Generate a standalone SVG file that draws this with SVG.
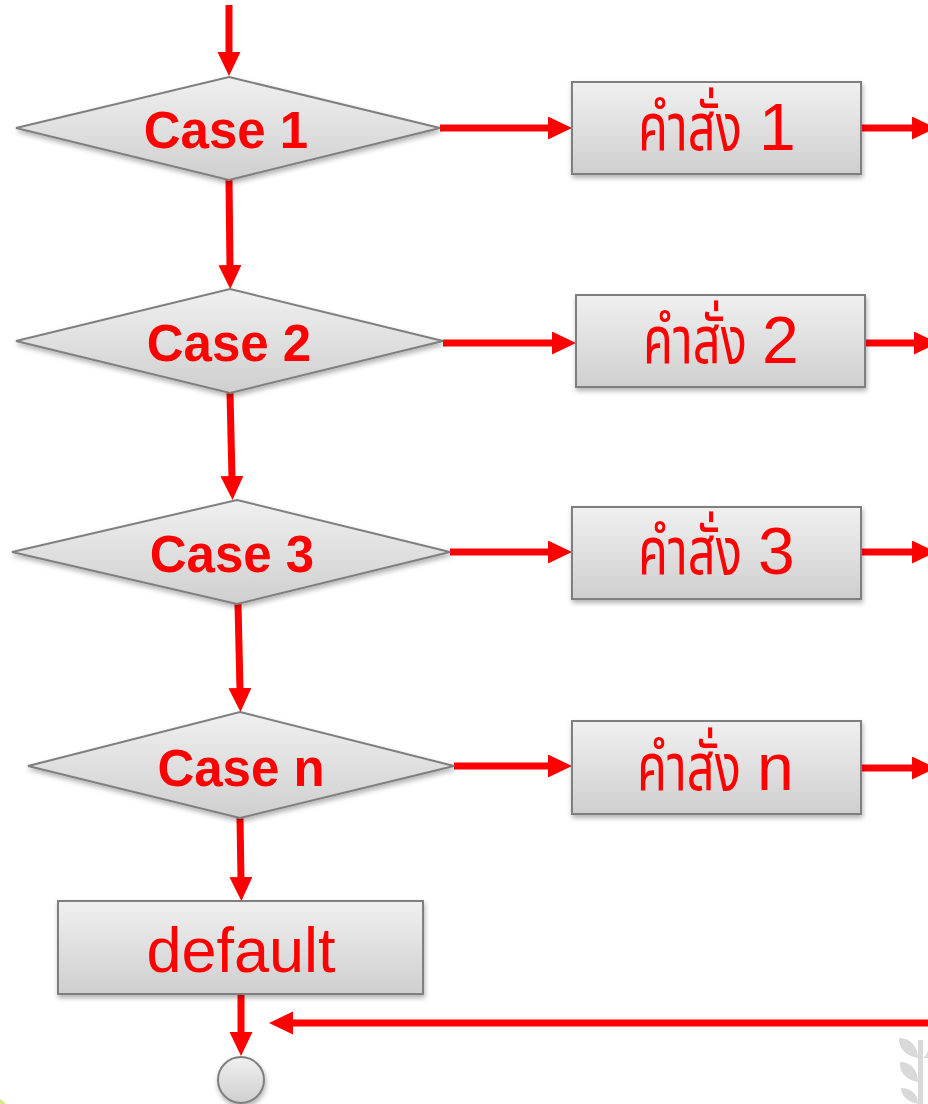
<svg xmlns="http://www.w3.org/2000/svg" width="928" height="1104" viewBox="0 0 928 1104">
<style>
.shape{fill:url(#g);stroke:#7f7f7f;stroke-width:2;filter:url(#sh)}
.case{font-family:"Liberation Sans",Arial,sans-serif;font-weight:bold;font-size:51px;fill:#ff0000;text-anchor:middle}
.thai{font-family:"Noto Sans Thai","Liberation Sans","Noto Sans",sans-serif;font-size:66px;fill:#ff0000}
.num{font-family:"Liberation Sans",Arial,sans-serif;font-size:66px;fill:#ff0000}
.big{font-family:"Liberation Sans",Arial,sans-serif;font-size:63px;fill:#ff0000;text-anchor:middle}
.c{stroke:#ff0000;stroke-width:7;fill:none;marker-end:url(#ah)}
</style>
<defs>
<linearGradient id="g" x1="0" y1="0" x2="0" y2="1">
<stop offset="0" stop-color="#f0f0f0"/>
<stop offset="1" stop-color="#cfcfcf"/>
</linearGradient>
<filter id="sh" x="-10%" y="-10%" width="130%" height="140%">
<feDropShadow dx="1" dy="3" stdDeviation="2.5" flood-color="#000" flood-opacity="0.3"/>
</filter>
<marker id="ah" markerUnits="userSpaceOnUse" markerWidth="26" markerHeight="24" refX="2" refY="11.5" orient="auto">
<path d="M0,0 L24,11.5 L0,23 z" fill="#ff0000"/>
</marker>
</defs>
<g id="decor">
<path d="M0,1099 Q4,1101 6,1104 L0,1104 z" fill="#d6e98a"/>
<rect x="918" y="1040" width="5" height="64" fill="#d9d9d9"/>
<path d="M918,1058 C906,1056 898,1048 899,1038 C910,1038 918,1046 918,1058 z" fill="#d9d9d9"/>
<path d="M918,1082 C906,1080 899,1072 900,1062 C911,1062 918,1070 918,1082 z" fill="#d9d9d9"/>
<path d="M918,1104 C908,1102 901,1096 901,1088 C911,1088 918,1094 918,1104 z" fill="#d9d9d9"/>
<path d="M923,1058 C928,1054 928,1050 928,1048 L928,1058 z" fill="#d9d9d9"/>
</g>
<g id="connectors">
<path class="c" d="M229,5 L229,54"/>
<path class="c" d="M229,180 L230,267"/>
<path class="c" d="M230,393 L232,478"/>
<path class="c" d="M238,604 L240,690"/>
<path class="c" d="M240,818 L241,879"/>
<path class="c" d="M241,994 L241,1034"/>
<path class="c" d="M440,128 L550,128"/>
<path class="c" d="M861,128 L914,128"/>
<path class="c" d="M443,343 L554,343"/>
<path class="c" d="M865,343 L916,343"/>
<path class="c" d="M450,552 L550,552"/>
<path class="c" d="M861,552 L914,552"/>
<path class="c" d="M454,766 L550,766"/>
<path class="c" d="M861,768 L914,768"/>
<path class="c" d="M930,1023 L291,1023"/>
</g>
<g id="case1">
<polygon class="shape" points="229,77 440,128 229,180 16,128"/>
<text class="case" x="226" y="148">Case 1</text>
</g>
<g id="case2">
<polygon class="shape" points="230,289 443,341 230,393 16,341"/>
<text class="case" x="229" y="361">Case 2</text>
</g>
<g id="case3">
<polygon class="shape" points="237,500 450,552 237,604 12,552"/>
<text class="case" x="232" y="572">Case 3</text>
</g>
<g id="casen">
<polygon class="shape" points="240,712 454,766 240,818 28,766"/>
<text class="case" x="241" y="786">Case n</text>
</g>
<g id="cmd1">
<rect class="shape" x="572" y="82" width="289" height="92"/>
<text class="thai" transform="translate(638,150) scale(0.74,1)">คำสั่ง</text>
<text class="num" x="759" y="150">1</text>
</g>
<g id="cmd2">
<rect class="shape" x="576" y="295" width="289" height="92"/>
<text class="thai" transform="translate(643,363) scale(0.74,1)">คำสั่ง</text>
<text class="num" x="762" y="363">2</text>
</g>
<g id="cmd3">
<rect class="shape" x="572" y="507" width="289" height="92"/>
<text class="thai" transform="translate(638,574) scale(0.74,1)">คำสั่ง</text>
<text class="num" x="758" y="574">3</text>
</g>
<g id="cmdn">
<rect class="shape" x="572" y="721" width="289" height="93"/>
<text class="thai" transform="translate(637,790) scale(0.74,1)">คำสั่ง</text>
<text class="num" x="757" y="790">n</text>
</g>
<g id="default">
<rect class="shape" x="58" y="901" width="365" height="93"/>
<text class="big" x="241" y="972">default</text>
</g>
<g id="end">
<circle class="shape" cx="241" cy="1080" r="23"/>
</g>
</svg>
